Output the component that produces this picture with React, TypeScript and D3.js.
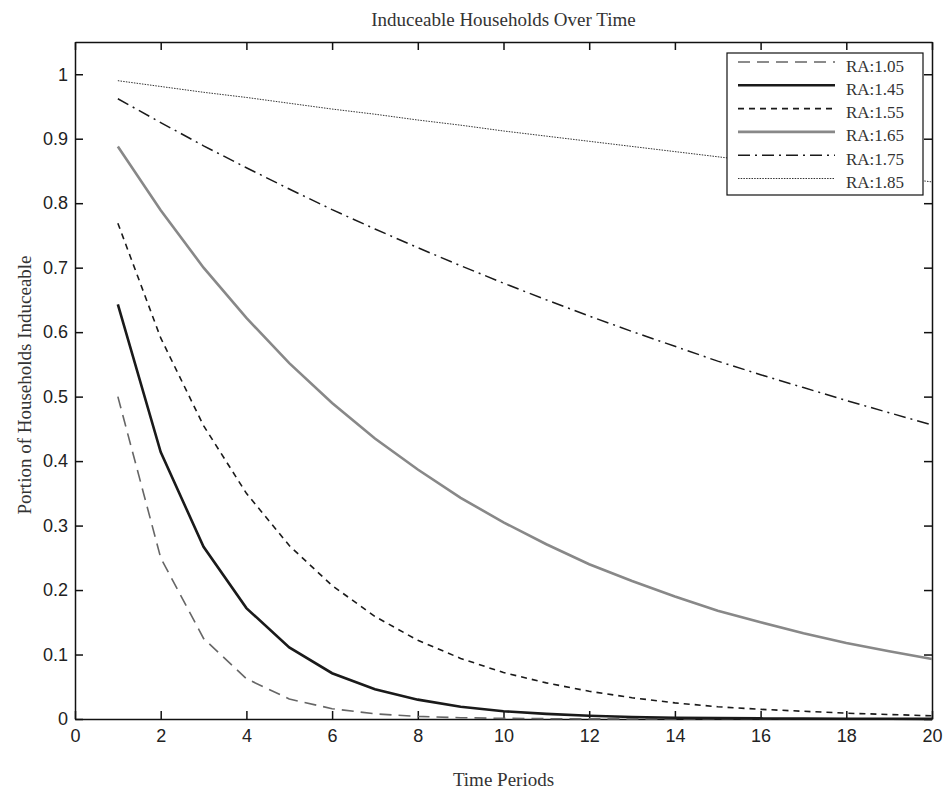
import React, { useEffect, useRef } from "react";
import * as d3 from "d3";

// time periods 1..20
const periods = [1, 2, 3, 4, 5, 6, 7, 8, 9, 10, 11, 12, 13, 14, 15, 16, 17, 18, 19, 20];

// portion of households induceable
const ra105 = [0.5, 0.25, 0.125, 0.0625, 0.031, 0.016, 0.008, 0.004, 0.002, 0.001, 0.0005, 0.0002, 0.0001, 0.0001, 0, 0, 0, 0, 0, 0];
const ra145 = [0.643, 0.414, 0.267, 0.172, 0.111, 0.071, 0.046, 0.03, 0.019, 0.012, 0.008, 0.005, 0.003, 0.002, 0.0014, 0.0009, 0.0006, 0.0004, 0.0003, 0.0002];
const ra155 = [0.769, 0.591, 0.455, 0.35, 0.269, 0.207, 0.159, 0.122, 0.094, 0.072, 0.056, 0.043, 0.033, 0.025, 0.019, 0.015, 0.012, 0.009, 0.007, 0.005];
const ra165 = [0.888, 0.789, 0.7, 0.622, 0.552, 0.49, 0.435, 0.387, 0.343, 0.305, 0.271, 0.24, 0.214, 0.19, 0.168, 0.15, 0.133, 0.118, 0.105, 0.093];
const ra175 = [0.962, 0.925, 0.889, 0.855, 0.822, 0.79, 0.76, 0.731, 0.703, 0.676, 0.65, 0.625, 0.601, 0.578, 0.555, 0.534, 0.514, 0.494, 0.475, 0.456];
const ra185 = [0.99, 0.981, 0.972, 0.964, 0.955, 0.946, 0.938, 0.929, 0.921, 0.912, 0.904, 0.896, 0.888, 0.88, 0.872, 0.864, 0.856, 0.848, 0.841, 0.833];

const seriesNames = ["RA:1.05", "RA:1.45", "RA:1.55", "RA:1.65", "RA:1.75", "RA:1.85"];
const seriesValues = [ra105, ra145, ra155, ra165, ra175, ra185];

const xTicks = [0, 2, 4, 6, 8, 10, 12, 14, 16, 18, 20];
const yTicks = [0, 0.1, 0.2, 0.3, 0.4, 0.5, 0.6, 0.7, 0.8, 0.9, 1];

// stroke styles per series
const styles = [
    { color: "#666666", width: 1.6, dash: "12,7" },
    { color: "#1a1a1a", width: 2.6, dash: null },
    { color: "#1a1a1a", width: 1.6, dash: "6,5" },
    { color: "#888888", width: 2.6, dash: null },
    { color: "#1a1a1a", width: 1.5, dash: "12,5,2,5" },
    { color: "#333333", width: 1, dash: "1.5,1.2" },
];

export default function App() {
    const svgRef = useRef(null);
    const width = 947;
    const height = 791;
    const marginLeft = 75;
    const marginRight = 15;
    const marginTop = 42;
    const marginBottom = 72;

    useEffect(() => {
        const svg = d3.select(svgRef.current);
        svg.selectAll("*").remove();

        const x = d3.scaleLinear().domain([0, 20]).range([marginLeft, width - marginRight]);
        const y = d3.scaleLinear().domain([0, 1.05]).range([height - marginBottom, marginTop]);

        svg.append("rect").attr("width", width).attr("height", height).attr("fill", "white");

        const tickFont = "'Liberation Sans', Arial, sans-serif";
        const serif = "'Liberation Serif', 'Times New Roman', serif";

        // axes with inward ticks, mirrored on top and right
        svg.append("g")
            .attr("transform", `translate(0,${height - marginBottom})`)
            .call(d3.axisBottom(x).tickValues(xTicks).tickSize(-8).tickPadding(10).tickSizeOuter(0))
            .call(g => g.selectAll("text").attr("font-size", 18).attr("font-family", tickFont).attr("fill", "#222"));
        svg.append("g")
            .attr("transform", `translate(0,${marginTop})`)
            .call(d3.axisTop(x).tickValues(xTicks).tickSize(-8).tickSizeOuter(0).tickFormat(() => ""));
        svg.append("g")
            .attr("transform", `translate(${marginLeft},0)`)
            .call(d3.axisLeft(y).tickValues(yTicks).tickSize(-8).tickPadding(7).tickSizeOuter(0)
                .tickFormat(d => d3.format("~g")(d)))
            .call(g => g.selectAll("text").attr("font-size", 18).attr("font-family", tickFont).attr("fill", "#222"));
        svg.append("g")
            .attr("transform", `translate(${width - marginRight},0)`)
            .call(d3.axisRight(y).tickValues(yTicks).tickSize(-8).tickSizeOuter(0).tickFormat(() => ""));

        svg.selectAll(".domain").attr("stroke", "#111").attr("stroke-width", 1.5);
        svg.selectAll(".tick line").attr("stroke", "#111").attr("stroke-width", 1.5);

        // lines
        const line = d3.line()
            .x((d, i) => x(periods[i]))
            .y(d => y(d));

        svg.append("g")
            .attr("fill", "none")
            .selectAll("path")
            .data(seriesValues)
            .join("path")
            .attr("d", d => line(d))
            .attr("stroke", (d, i) => styles[i].color)
            .attr("stroke-width", (d, i) => styles[i].width)
            .attr("stroke-dasharray", (d, i) => styles[i].dash);

        // legend
        const legend = svg.append("g").attr("transform", "translate(727,53)");
        legend.append("rect")
            .attr("width", 196)
            .attr("height", 142)
            .attr("fill", "white")
            .attr("stroke", "#111")
            .attr("stroke-width", 1.2);
        const rows = legend.selectAll("g.row")
            .data(seriesNames)
            .join("g")
            .attr("class", "row")
            .attr("transform", (d, i) => `translate(0,${9 + i * 23.3})`);
        rows.append("line")
            .attr("x1", 11).attr("x2", 108)
            .attr("y1", 0).attr("y2", 0)
            .attr("stroke", (d, i) => styles[i].color)
            .attr("stroke-width", (d, i) => styles[i].width)
            .attr("stroke-dasharray", (d, i) => styles[i].dash);
        rows.append("text")
            .attr("x", 119)
            .attr("y", 9.5)
            .attr("font-family", serif)
            .attr("font-size", 17)
            .attr("fill", "#333")
            .text(d => d);

        // title and axis labels
        const midX = (marginLeft + width - marginRight) / 2;
        svg.append("text")
            .attr("x", midX)
            .attr("y", 26)
            .attr("text-anchor", "middle")
            .attr("font-family", serif)
            .attr("font-size", 19)
            .attr("fill", "#333")
            .text("Induceable Households Over Time");
        svg.append("text")
            .attr("x", midX)
            .attr("y", 786)
            .attr("text-anchor", "middle")
            .attr("font-family", serif)
            .attr("font-size", 19)
            .attr("fill", "#333")
            .text("Time Periods");
        svg.append("text")
            .attr("transform", `translate(31,385) rotate(-90)`)
            .attr("text-anchor", "middle")
            .attr("font-family", serif)
            .attr("font-size", 19)
            .attr("fill", "#333")
            .text("Portion of Households Induceable");
    }, []);

    return (
        <svg ref={svgRef} width={width} height={height} style={{ position: "absolute", left: 0, top: 0 }}>
        </svg>
    );
}
